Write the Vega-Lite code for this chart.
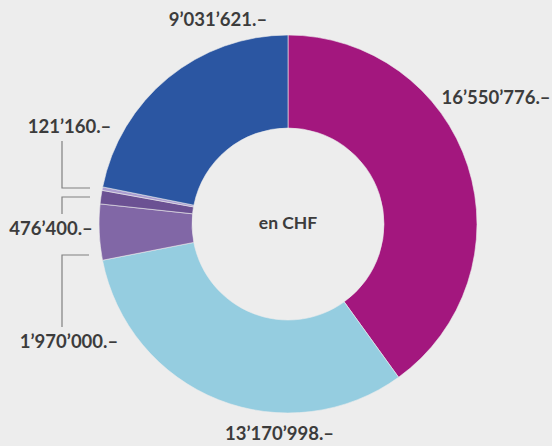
{
  "$schema": "https://vega.github.io/schema/vega-lite/v6.json",
  "width": 528,
  "height": 444,
  "padding": {"left": 24, "top": 2, "right": 0, "bottom": 0},
  "autosize": {"type": "none"},
  "background": "#ededed",
  "config": {"view": {"stroke": null}},
  "datasets": {
    "slices": [
      {"category": "A", "amount": 16550776, "rank": 1},
      {"category": "B", "amount": 13170998, "rank": 2},
      {"category": "C", "amount": 1970000, "rank": 3},
      {"category": "D", "amount": 476400, "rank": 4},
      {"category": "E", "amount": 121160, "rank": 5},
      {"category": "F", "amount": 9031621, "rank": 6}
    ],
    "labels": [
      {"label": "9’031’621.–", "x": -37.04, "y": 107.94},
      {"label": "16’550’776.–", "x": 110.05, "y": 66.67},
      {"label": "121’160.–", "x": -115.61, "y": 51.32},
      {"label": "476’400.–", "x": -125.4, "y": -2.65},
      {"label": "1’970’000.–", "x": -115.87, "y": -62.43},
      {"label": "13’170’998.–", "x": -4.5, "y": -111.11}
    ],
    "leaders": [
      {"group": "E", "step": 1, "x": -119.58, "y": 43.92},
      {"group": "E", "step": 2, "x": -119.58, "y": 19.05},
      {"group": "E", "step": 3, "x": -104.76, "y": 19.05},
      {"group": "D", "step": 1, "x": -104.76, "y": 14.29},
      {"group": "D", "step": 2, "x": -119.58, "y": 14.29},
      {"group": "D", "step": 3, "x": -119.58, "y": 5.29},
      {"group": "C", "step": 1, "x": -105.29, "y": -16.4},
      {"group": "C", "step": 2, "x": -119.58, "y": -16.4},
      {"group": "C", "step": 3, "x": -119.58, "y": -54.5}
    ],
    "center": [
      {"label": "en CHF", "x": 0, "y": 0}
    ]
  },
  "layer": [
    {
      "data": {"name": "slices"},
      "mark": {"type": "arc", "innerRadius": 96, "outerRadius": 189, "stroke": "#ededed", "strokeWidth": 0.6},
      "encoding": {
        "theta": {"field": "amount", "type": "quantitative", "stack": true},
        "order": {"field": "rank", "type": "quantitative"},
        "color": {
          "field": "category",
          "type": "nominal",
          "scale": {
            "domain": ["A", "B", "C", "D", "E", "F"],
            "range": ["#a3177e", "#95cde0", "#8167a6", "#6b5193", "#ab9dd1", "#2b56a2"]
          },
          "legend": null
        }
      }
    },
    {
      "data": {"name": "leaders"},
      "mark": {"type": "line", "color": "#808080", "strokeWidth": 1.2},
      "encoding": {
        "x": {"field": "x", "type": "quantitative", "scale": {"domain": [-139.683, 139.683], "nice": false, "zero": false}, "axis": null},
        "y": {"field": "y", "type": "quantitative", "scale": {"domain": [-117.46, 117.46], "nice": false, "zero": false}, "axis": null},
        "detail": {"field": "group", "type": "nominal"},
        "order": {"field": "step", "type": "quantitative"}
      }
    },
    {
      "data": {"name": "labels"},
      "mark": {"type": "text", "font": "Lato", "fontWeight": "bold", "fontSize": 18.5, "color": "#3c3c3c", "align": "center", "baseline": "middle"},
      "encoding": {
        "x": {"field": "x", "type": "quantitative"},
        "y": {"field": "y", "type": "quantitative"},
        "text": {"field": "label", "type": "nominal"}
      }
    },
    {
      "data": {"name": "center"},
      "mark": {"type": "text", "font": "Lato", "fontWeight": "bold", "fontSize": 17.5, "color": "#3c3c3c", "align": "center", "baseline": "middle"},
      "encoding": {
        "x": {"field": "x", "type": "quantitative"},
        "y": {"field": "y", "type": "quantitative"},
        "text": {"field": "label", "type": "nominal"}
      }
    }
  ]
}
